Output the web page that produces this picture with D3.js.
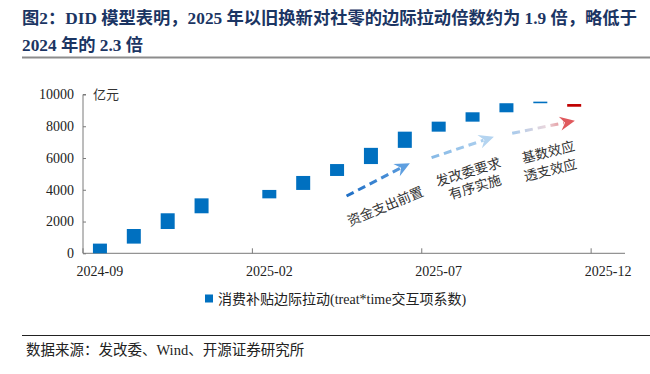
<!DOCTYPE html>
<html>
<head>
<meta charset="utf-8">
<script src="https://cdn.jsdelivr.net/npm/d3@7"></script>
<style>
	body { margin: 0; background: #fff; }
	svg text { font-family: "Liberation Serif", "Noto Sans CJK SC", serif; }
	.cn { font-family: "Noto Sans CJK SC", sans-serif; }
</style>
</head>
<body>
<div id="chart"></div>
<script>
// months on the category axis (2025-01 and 2025-12 have no bar)
const months	= ["2024-09", "2024-10", "2024-11", "2024-12", "2025-01", "2025-02", "2025-03", "2025-04",
				   "2025-05", "2025-06", "2025-07", "2025-08", "2025-09", "2025-10", "2025-11", "2025-12"];
// floating bar bottom / top, 亿元
const lows		= [0,   610,  1530, 2520, null, 3460, 3990, 4870, 5620, 6640, 7660, 8290, 8880, 9450, 9230, null];
const highs		= [610, 1530, 2520, 3460, null, 3990, 4870, 5620, 6640, 7660, 8290, 8880, 9450, 9550, 9400, null];
const redMonth	= "2025-11";
const yTicks	= [0, 2000, 4000, 6000, 8000, 10000];
const xTickLabels = ["2024-09", "2025-02", "2025-07", "2025-12"];

const W = 650, H = 374;
let margin = { left: 83, right: 25, top: 94.5, bottom: 120.7 };

let svg = d3.select("#chart").append("svg")
	.attr("width", W)
	.attr("height", H);

svg.append("rect").attr("width", W).attr("height", H).attr("fill", "#fff");

// title
let title = svg.append("g").attr("fill", "#1b3563").attr("font-weight", "bold").attr("font-size", 17.3);
title.append("text").attr("x", 22).attr("y", 24)
	.text("图2：DID 模型表明，2025 年以旧换新对社零的边际拉动倍数约为 1.9 倍，略低于");
title.append("text").attr("x", 22).attr("y", 51)
	.text("2024 年的 2.3 倍");
svg.append("line").attr("x1", 22).attr("x2", 650).attr("y1", 57.5).attr("y2", 57.5)
	.attr("stroke", "#8c8c8c").attr("stroke-width", 2);

// scales
let x = d3.scaleBand().domain(months).range([margin.left, W - margin.right]).padding(0);
let xi = d3.scaleLinear().domain([0, months.length]).range([margin.left, W - margin.right]);
let y = d3.scaleLinear().domain([0, 10000]).range([H - margin.bottom, margin.top]);
const y0 = y(0);

// axes
let axisColor = "#7a7a7a";
let gy = svg.append("g").attr("transform", "translate(" + margin.left + ",0)")
	.call(d3.axisRight(y).tickValues(yTicks).tickSize(3).tickFormat(""));
gy.select(".domain").attr("stroke", axisColor).attr("d", "M3," + y(10000) + "H0V" + y0);
gy.selectAll(".tick line").attr("stroke", axisColor);

svg.append("g").selectAll("text").data(yTicks).enter().append("text")
	.attr("x", 74)
	.attr("y", (o) => y(o))
	.attr("dy", "0.35em")
	.attr("text-anchor", "end")
	.attr("font-size", 14)
	.attr("fill", "#222")
	.text((o) => o);

svg.append("text").attr("class", "cn")
	.attr("x", 93).attr("y", y(10000)).attr("dy", "0.38em")
	.attr("font-size", 13).attr("fill", "#333").text("亿元");

let gx = svg.append("g");
gx.append("line")
	.attr("x1", margin.left).attr("x2", W - margin.right)
	.attr("y1", y0).attr("y2", y0)
	.attr("stroke", axisColor);
gx.selectAll(".xt").data(xTickLabels).enter().append("line")
	.attr("x1", (o) => x(o)).attr("x2", (o) => x(o))
	.attr("y1", y0).attr("y2", y0 - 5)
	.attr("stroke", axisColor);
gx.selectAll(".xl").data(xTickLabels).enter().append("text")
	.attr("x", (o) => x(o) + x.bandwidth() / 2)
	.attr("y", y0 + 23)
	.attr("text-anchor", "middle")
	.attr("font-size", 14)
	.attr("fill", "#222")
	.text((o) => o);

// bars
let barW = 14;
let rows = months.map((m, i) => ({ m: m, lo: lows[i], hi: highs[i] })).filter((o) => o.lo != null);
svg.append("g").selectAll("rect").data(rows).enter().append("rect")
	.attr("x", (o) => x(o.m) + x.bandwidth() / 2 - barW / 2)
	.attr("width", barW)
	.attr("y", (o) => y(Math.max(o.lo, o.hi)))
	.attr("height", (o) => Math.abs(y(o.lo) - y(o.hi)))
	.attr("fill", (o) => (o.m === redMonth ? "#c00000" : "#0070c0"));

// dashed arrows (month index, value)
let arrows = [
	{ a: [7.78, 3610], b: [9.65, 5670], c0: "#1f6fc5", c1: "#5e9fe0" },
	{ a: [10.29, 6020], b: [12.13, 7340], c0: "#86b9e6", c1: "#b4d4f0" },
	{ a: [12.67, 7560], b: [14.52, 8350], c0: "#a9cbec", c1: "#e0595d" }
];
let defs = svg.append("defs");
arrows.forEach((o, i) => {
	let x1 = xi(o.a[0]), y1 = y(o.a[1]), x2 = xi(o.b[0]), y2 = y(o.b[1]);
	let ang = Math.atan2(y2 - y1, x2 - x1);
	let head = 11;
	let g = defs.append("linearGradient").attr("id", "ag" + i)
		.attr("gradientUnits", "userSpaceOnUse")
		.attr("x1", x1).attr("y1", y1).attr("x2", x2).attr("y2", y2);
	g.append("stop").attr("offset", 0).attr("stop-color", o.c0);
	if (i === 2) g.append("stop").attr("offset", 0.55).attr("stop-color", "#ead6dc");
	g.append("stop").attr("offset", 1).attr("stop-color", o.c1);
	svg.append("line")
		.attr("x1", x1).attr("y1", y1)
		.attr("x2", x2 - head * Math.cos(ang)).attr("y2", y2 - head * Math.sin(ang))
		.attr("stroke", "url(#ag" + i + ")")
		.attr("stroke-width", 3)
		.attr("stroke-dasharray", "8,5");
	svg.append("path")
		.attr("d", "M0,0 L-15,-7 L-10,0 L-15,7 Z")
		.attr("transform", "translate(" + x2 + "," + y2 + ") rotate(" + (ang * 180 / Math.PI) + ")")
		.attr("fill", o.c1);
});

// rotated notes (month index, value, angle)
let notes = [
	{ t: "资金支出前置", p: [8.92, 2980], r: -22.5 },
	{ t: "发改委要求", p: [11.37, 5140], r: -17 },
	{ t: "有序实施", p: [11.57, 4195], r: -17 },
	{ t: "基数效应", p: [13.73, 6400], r: -14 },
	{ t: "透支效应", p: [13.79, 5265], r: -14 }
];
svg.append("g").selectAll("text").data(notes).enter().append("text")
	.attr("class", "cn")
	.attr("transform", (o) => "translate(" + xi(o.p[0]) + "," + y(o.p[1]) + ") rotate(" + o.r + ")")
	.attr("text-anchor", "middle")
	.attr("dy", "0.38em")
	.attr("font-size", 13.5)
	.attr("fill", "#333")
	.text((o) => o.t);

// legend
svg.append("rect").attr("x", 205).attr("y", 294.5).attr("width", 8).attr("height", 8).attr("fill", "#0070c0");
let leg = svg.append("text").attr("x", 218).attr("y", 303.5).attr("font-size", 14).attr("fill", "#222");
leg.append("tspan").attr("class", "cn").text("消费补贴边际拉动");
leg.append("tspan").text("(treat*time");
leg.append("tspan").attr("class", "cn").text("交互项系数");
leg.append("tspan").text(")");

// source
svg.append("line").attr("x1", 22).attr("x2", 650).attr("y1", 335.5).attr("y2", 335.5)
	.attr("stroke", "#222").attr("stroke-width", 1);
let src = svg.append("text").attr("x", 26).attr("y", 355).attr("font-size", 14.5).attr("fill", "#222");
src.append("tspan").attr("class", "cn").text("数据来源：发改委、");
src.append("tspan").text("Wind");
src.append("tspan").attr("class", "cn").text("、开源证券研究所");
</script>
</body>
</html>
